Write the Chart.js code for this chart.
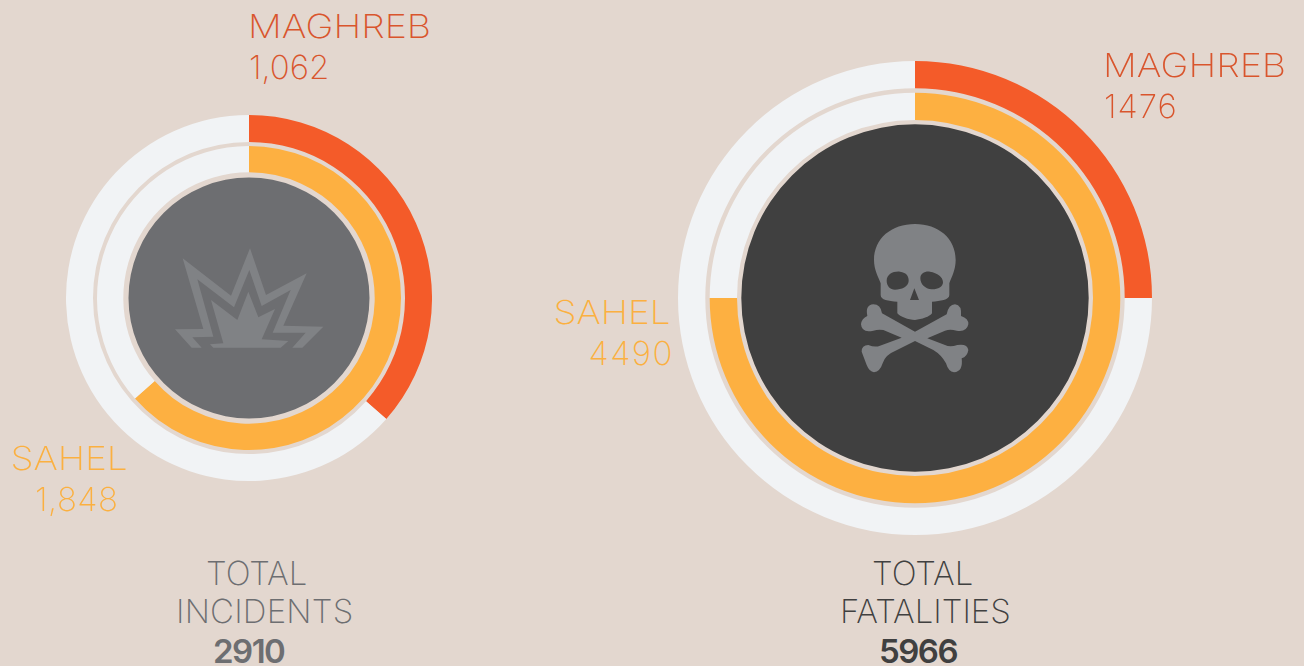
<!DOCTYPE html>
<html>
<head>
<meta charset="utf-8">
<title>Maghreb and Sahel</title>
<script src="https://cdn.jsdelivr.net/npm/chart.js@4"></script>
<style>
  html, body { margin: 0; padding: 0; width: 1304px; height: 666px; overflow: hidden; background: #e3d7cf; }
  body { position: relative; font-family: Inter, "Open Sans", sans-serif; }
  canvas { position: absolute; }
  svg { position: absolute; }
  .txt { position: absolute; white-space: nowrap; line-height: 40px; font-size: 33px; font-weight: 250; }
  .maghreb { color: #d9552d; }
  .sahel { color: #fbb040; }
  .left-total { color: #6d6e71; }
  .right-total { color: #404040; }
  .bold { font-weight: 600; letter-spacing: -1.5px; }
  .wide-l { transform: scaleX(1.14); transform-origin: left center; }
  .wide-r { transform: scaleX(1.12); transform-origin: right center; }
</style>
</head>
<body>

<canvas id="chart-incidents" width="366" height="366" style="left:66px;top:115px"></canvas>
<canvas id="chart-fatalities" width="474" height="474" style="left:678px;top:61px"></canvas>

<!-- explosion icon -->
<svg style="left:160px;top:230px" width="180" height="130" viewBox="0 0 540 390">
  <path fill="#808285" fill-rule="evenodd" d="M68 85 L213 197 L270 55 L318 195 L440 130 L370 287 L490 290 L427 353 L397 353 L437 308 L338 308 L392 180 L305 228 L268 120 L222 232 L112 148 L160 320 L97 322 L125 353 L95 353 L45 298 L130 297 Z"/>
  <path fill="#808285" d="M153 210 L232 270 L265 185 L295 262 L345 237 L305 328 L385 333 L362 353 L160 353 L150 343 L190 340 Z"/>
</svg>

<!-- skull icon -->
<svg style="left:850px;top:215px" width="130" height="170" viewBox="0 0 390 510">
  <path fill="#808285" fill-rule="evenodd" d="M195 27 C125 27 72 70 72 135 C72 165 85 185 92 205 L92 240 C92 255 115 258 142 260 L142 295 C150 305 175 315 195 315 C215 313 240 305 246 295 L246 260 C270 258 298 255 298 240 L298 205 C305 185 317 165 317 135 C317 70 265 27 195 27 Z
    M110 197 C110 178 130 168 150 170 C170 172 177 185 176 198 C175 215 155 224 135 224 C120 224 110 212 110 197 Z
    M211 190 C211 175 225 168 240 170 C262 174 279 185 279 202 C279 216 262 224 245 223 C225 222 211 207 211 190 Z
    M193 220 L180 255 L207 255 Z"/>
  <path fill="#808285" d="M70 268 Q92 268 96 295 L195 350 L290 298 Q296 268 315 268 Q336 270 333 303 Q356 310 355 328 Q350 352 320 347 Q300 342 285 347 L232 370 L285 390 Q300 398 322 390 Q352 385 355 405 Q352 425 335 430 Q340 470 312 472 Q295 470 288 445 Q275 420 250 405 L195 378 L135 408 Q105 420 98 445 Q90 470 72 472 Q58 470 50 450 L35 410 Q35 390 55 390 Q75 398 90 392 L155 368 L100 345 Q85 342 70 347 Q35 355 33 328 Q35 310 52 303 Q45 270 70 268 Z"/>
</svg>

<div class="txt maghreb wide-l" id="inc-maghreb-name" style="left:248px;top:6px"></div>
<div class="txt maghreb" id="inc-maghreb-val" style="left:249px;top:47px"></div>
<div class="txt sahel wide-r" id="inc-sahel-name" style="right:1176px;top:438px"></div>
<div class="txt sahel" id="inc-sahel-val" style="right:1185.5px;top:479px;letter-spacing:.5px"></div>

<div class="txt maghreb wide-l" id="fat-maghreb-name" style="left:1103px;top:45px"></div>
<div class="txt maghreb" id="fat-maghreb-val" style="left:1104px;top:86px;letter-spacing:1px"></div>
<div class="txt sahel wide-r" id="fat-sahel-name" style="right:633px;top:292px"></div>
<div class="txt sahel" id="fat-sahel-val" style="right:630px;top:333px;letter-spacing:1.5px"></div>

<div class="txt left-total" id="inc-total-1" style="left:206px;top:553px"></div>
<div class="txt left-total" id="inc-total-2" style="left:176px;top:591px;letter-spacing:.2px"></div>
<div class="txt left-total bold" id="inc-total-3" style="left:213px;top:631px"></div>

<div class="txt right-total" id="fat-total-1" style="left:872px;top:553px"></div>
<div class="txt right-total" id="fat-total-2" style="left:840px;top:591px"></div>
<div class="txt right-total bold" id="fat-total-3" style="left:879px;top:631px"></div>

<script>
// Region names and the values printed beside the rings
const regions = ["MAGHREB", "SAHEL"];
const incidentLabels = ["1,062", "1,848"];
const fatalityLabels = ["1476", "4490"];

// Ring values. Incidents arcs follow the counts; the fatalities arcs in the
// picture are cut at a clean quarter and three quarters, so they use those shares.
const incidentValues = [1062, 1848];
const fatalityArcShares = [25, 75];

const incidentTotal = 2910;
const fatalityTotal = 5966;
const incidentTitle = ["TOTAL", "INCIDENTS"];
const fatalityTitle = ["TOTAL", "FATALITIES"];

const ORANGE = "#f45b29";
const AMBER = "#fdb041";
const PALE = "#f1f3f5";

function drawRings(canvasId, values, discColor, weights) {
  const total = values[0] + values[1];
  new Chart(document.getElementById(canvasId), {
    type: 'doughnut',
    data: {
      labels: [regions[0], regions[1]],
      datasets: [
        // first dataset is the outermost ring
        { data: [values[0], total - values[0]], backgroundColor: [ORANGE, PALE], weight: weights[0] },
        { data: [1], backgroundColor: ['rgba(0,0,0,0)'], weight: weights[1] },
        { data: [values[1], total - values[1]], backgroundColor: [AMBER, PALE], weight: weights[2] },
        { data: [1], backgroundColor: ['rgba(0,0,0,0)'], weight: weights[3] },
        { data: [1], backgroundColor: [discColor], weight: weights[4] }
      ]
    },
    options: {
      responsive: false,
      animation: false,
      cutout: 0,
      borderWidth: 0,
      elements: { arc: { borderWidth: 0 } },
      layout: { padding: 0 },
      plugins: { legend: { display: false }, tooltip: { enabled: false } }
    }
  });
}

drawRings("chart-incidents", incidentValues, "#6d6e71", [27, 4, 26.3, 5.2, 120.5]);
drawRings("chart-fatalities", fatalityArcShares, "#404040", [27.3, 4.4, 27.3, 4.3, 173.7]);

const setText = (id, text) => { document.getElementById(id).textContent = text; };
setText("inc-maghreb-name", regions[0]);
setText("inc-maghreb-val", incidentLabels[0]);
setText("inc-sahel-name", regions[1]);
setText("inc-sahel-val", incidentLabels[1]);
setText("fat-maghreb-name", regions[0]);
setText("fat-maghreb-val", fatalityLabels[0]);
setText("fat-sahel-name", regions[1]);
setText("fat-sahel-val", fatalityLabels[1]);
setText("inc-total-1", incidentTitle[0]);
setText("inc-total-2", incidentTitle[1]);
setText("inc-total-3", String(incidentTotal));
setText("fat-total-1", fatalityTitle[0]);
setText("fat-total-2", fatalityTitle[1]);
setText("fat-total-3", String(fatalityTotal));
</script>
</body>
</html>
